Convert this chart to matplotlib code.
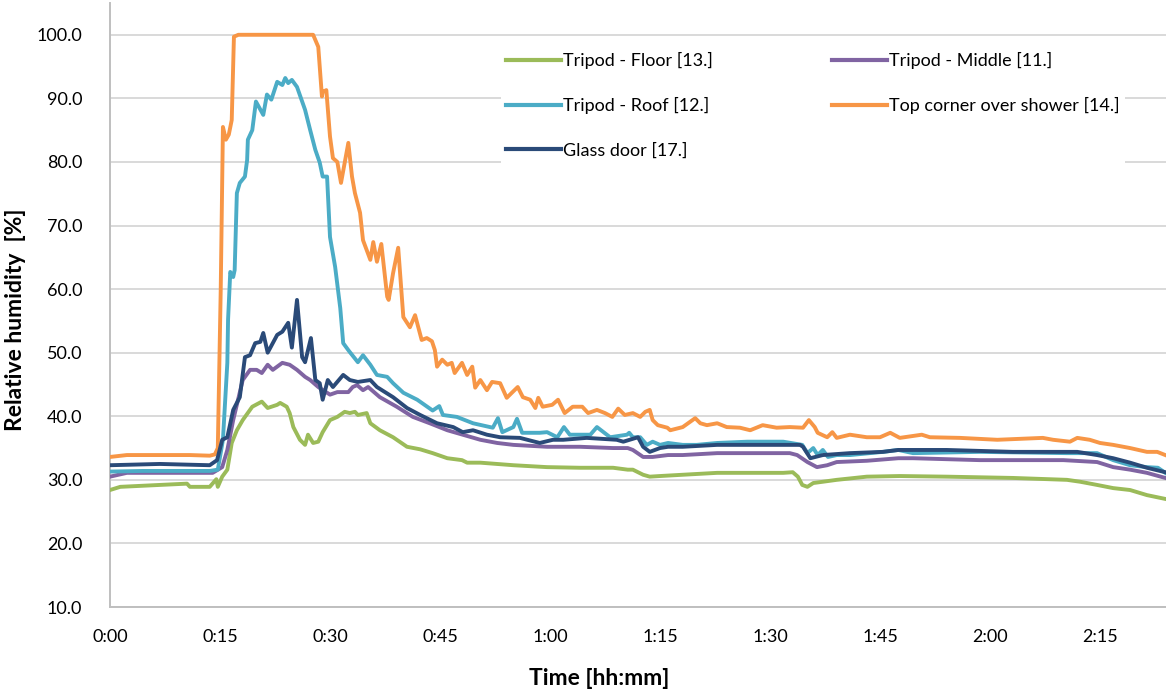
import matplotlib
matplotlib.use("Agg")
import matplotlib.pyplot as plt
from matplotlib.ticker import FormatStrFormatter

plt.rcParams['font.family'] = ['Lato', 'DejaVu Sans']

# time in minutes from start, relative humidity in %
floor = [(0.0, 28.4), (1.4, 28.9), (6.8, 29.2), (10.5, 29.4), (10.9, 28.9), (13.6, 28.9),
         (14.5, 30.1), (14.7, 28.9), (15.3, 30.5), (16.0, 31.6), (16.6, 35.8), (17.3, 37.8),
         (18.1, 39.4), (19.4, 41.5), (20.7, 42.3), (21.5, 41.3), (22.8, 41.8), (23.2, 42.1),
         (24.1, 41.5), (24.5, 40.5), (25.0, 38.3), (25.9, 36.3), (26.6, 35.5), (27.0, 37.1),
         (27.7, 35.8), (28.4, 36.0), (29.0, 37.5), (30.0, 39.4), (31.0, 39.9), (32.0, 40.7),
         (32.7, 40.5), (33.4, 40.7), (33.8, 40.2), (35.0, 40.5), (35.5, 38.9), (36.8, 37.8),
         (38.6, 36.7), (40.5, 35.2), (42.3, 34.8), (44.0, 34.2), (46.0, 33.4), (48.0, 33.1),
         (48.7, 32.7), (50.5, 32.7), (55.0, 32.3), (59.6, 32.0), (64.1, 31.9), (68.6, 31.9),
         (70.6, 31.6), (71.3, 31.6), (72.7, 30.8), (73.6, 30.5), (75.0, 30.6), (78.1, 30.8),
         (82.8, 31.1), (87.3, 31.1), (91.8, 31.1), (93.1, 31.2), (93.8, 30.5), (94.4, 29.2),
         (95.1, 28.9), (95.9, 29.5), (97.2, 29.7), (99.1, 30.0), (103.2, 30.5), (107.7, 30.6),
         (114.1, 30.5), (123.1, 30.3), (130.5, 30.0), (132.3, 29.7), (134.6, 29.2),
         (136.8, 28.7), (139.1, 28.4), (141.4, 27.6), (143.9, 27.0)]

middle = [(0.0, 30.5), (2.3, 31.1), (14.0, 31.1), (15.3, 32.0), (16.0, 34.7), (16.8, 39.4),
          (18.1, 45.7), (19.1, 47.3), (20.0, 47.3), (20.7, 46.8), (21.5, 48.1), (22.2, 47.3),
          (23.5, 48.4), (24.5, 48.1), (25.5, 47.3), (26.6, 46.2), (27.3, 45.7), (28.4, 44.6),
          (30.0, 43.4), (31.0, 43.8), (32.5, 43.8), (33.1, 44.6), (33.7, 44.9), (34.5, 44.1),
          (35.2, 44.6), (36.8, 43.0), (39.1, 41.5), (41.3, 39.9), (43.6, 38.9), (46.0, 37.8),
          (48.1, 37.1), (50.5, 36.3), (52.8, 35.8), (55.0, 35.5), (59.6, 35.2), (64.1, 35.2),
          (68.6, 35.0), (70.6, 35.0), (71.3, 34.7), (72.7, 33.6), (74.0, 33.6), (76.1, 33.9),
          (78.1, 33.9), (82.8, 34.2), (87.3, 34.2), (92.7, 34.2), (93.7, 33.9), (95.1, 32.8),
          (96.4, 32.0), (97.8, 32.3), (99.1, 32.8), (103.2, 33.0), (107.5, 33.4), (109.5, 33.4),
          (118.6, 33.1), (130.0, 33.1), (134.6, 32.8), (136.8, 32.0), (139.1, 31.6),
          (141.4, 31.1), (143.9, 30.3)]

roof = [(0.0, 31.3), (4.5, 31.4), (13.6, 31.4), (14.7, 31.6), (15.4, 36.3), (16.0, 48.4),
        (16.1, 55.2), (16.4, 62.7), (16.8, 61.9), (17.0, 63.0), (17.3, 75.1), (17.7, 76.7),
        (18.4, 77.7), (18.7, 80.3), (18.8, 83.5), (19.4, 85.0), (19.9, 89.5), (20.9, 87.4),
        (21.4, 90.6), (22.0, 89.8), (22.8, 92.6), (23.5, 92.1), (23.9, 93.2), (24.3, 92.4),
        (24.8, 92.9), (25.5, 91.8), (26.6, 88.2), (27.3, 85.0), (28.0, 81.9), (28.6, 79.9),
        (29.0, 77.7), (29.6, 77.7), (30.0, 68.2), (30.7, 63.5), (31.4, 57.0), (31.8, 51.5),
        (32.5, 50.4), (32.7, 50.1), (33.8, 48.5), (34.5, 49.6), (35.5, 48.1), (36.4, 46.5),
        (37.8, 46.2), (38.6, 45.2), (40.0, 43.7), (41.9, 42.6), (44.0, 40.9), (44.9, 41.6),
        (45.4, 40.2), (47.3, 39.9), (49.5, 38.9), (52.2, 38.2), (52.9, 39.7), (53.5, 37.5),
        (55.0, 38.3), (55.5, 39.6), (56.2, 37.4), (58.6, 37.4), (59.6, 37.5), (61.0, 36.7),
        (61.9, 38.3), (62.7, 37.1), (65.5, 37.1), (66.4, 38.3), (68.2, 36.7), (70.5, 37.1),
        (70.8, 37.4), (71.3, 36.7), (72.3, 36.7), (73.2, 35.5), (74.0, 36.0), (75.0, 35.5),
        (76.1, 35.8), (78.1, 35.5), (80.0, 35.5), (82.8, 35.8), (86.9, 36.0), (91.8, 36.0),
        (94.4, 35.5), (95.1, 34.2), (95.9, 35.0), (96.5, 33.9), (97.2, 34.7), (97.9, 33.6),
        (99.1, 33.9), (100.9, 33.9), (105.4, 34.4), (107.5, 34.7), (109.5, 34.2),
        (118.6, 34.4), (130.5, 34.2), (134.6, 34.2), (136.8, 33.1), (139.1, 32.3),
        (141.4, 32.0), (142.9, 31.9), (143.9, 31.1)]

shower = [(0.0, 33.6), (2.3, 33.9), (10.9, 33.9), (13.6, 33.8), (14.3, 34.0), (14.7, 35.0),
          (15.1, 60.0), (15.4, 85.5), (15.8, 83.5), (16.2, 84.3), (16.6, 86.6), (16.9, 99.7),
          (17.5, 100.0), (27.7, 100.0), (28.4, 98.1), (28.9, 90.3), (29.0, 91.0), (29.5, 91.3),
          (30.0, 84.0), (30.4, 80.6), (31.0, 80.0), (31.5, 76.7), (32.5, 83.0), (33.0, 77.7),
          (33.4, 75.1), (34.1, 72.0), (34.5, 67.7), (35.5, 64.6), (35.9, 67.4), (36.4, 64.3),
          (37.0, 67.1), (37.8, 58.8), (38.0, 58.3), (38.6, 62.5), (39.3, 66.5), (40.0, 55.6),
          (40.9, 54.0), (41.6, 55.9), (42.5, 52.0), (43.2, 52.3), (43.9, 51.8), (44.3, 50.4),
          (44.6, 47.8), (45.3, 48.9), (46.0, 48.1), (46.6, 48.4), (47.0, 46.8), (48.0, 48.4),
          (48.7, 46.5), (49.4, 47.8), (49.8, 44.5), (50.5, 45.7), (51.4, 44.1), (52.1, 45.4),
          (53.2, 45.2), (54.1, 42.9), (54.8, 43.7), (55.6, 44.6), (56.3, 43.0), (57.3, 42.6),
          (58.0, 41.3), (58.4, 42.9), (59.0, 41.5), (60.3, 41.8), (61.1, 42.6), (62.0, 40.5),
          (63.1, 41.5), (64.4, 41.5), (65.2, 40.5), (66.4, 41.0), (67.5, 40.5), (68.5, 39.9),
          (69.3, 41.2), (70.2, 40.2), (71.3, 40.5), (72.3, 39.9), (73.0, 40.7), (73.6, 41.0),
          (74.0, 39.4), (74.7, 38.6), (76.0, 38.2), (76.4, 37.8), (78.1, 38.3), (79.8, 39.7),
          (80.5, 38.9), (81.4, 38.6), (82.8, 38.9), (84.1, 38.3), (85.9, 38.2), (87.3, 37.8),
          (89.0, 38.6), (90.9, 38.2), (92.7, 38.3), (94.5, 38.2), (95.3, 39.4), (96.1, 38.3),
          (96.5, 37.4), (97.8, 36.7), (98.5, 37.5), (99.1, 36.6), (100.9, 37.1), (103.2, 36.7),
          (105.0, 36.7), (106.4, 37.4), (107.7, 36.6), (110.7, 37.1), (111.8, 36.7),
          (115.9, 36.6), (121.0, 36.3), (127.2, 36.6), (128.6, 36.3), (130.9, 36.0),
          (131.9, 36.6), (133.6, 36.3), (135.0, 35.8), (136.8, 35.5), (139.1, 35.0),
          (141.4, 34.4), (142.8, 34.4), (143.9, 33.9)]

glass = [(0.0, 32.3), (6.8, 32.5), (13.6, 32.3), (14.6, 33.1), (15.3, 36.3), (16.0, 36.7),
         (16.8, 41.0), (17.7, 43.0), (18.4, 49.3), (19.1, 49.6), (19.8, 51.5), (20.5, 51.7),
         (20.9, 53.1), (21.5, 50.0), (22.8, 52.8), (23.5, 53.3), (24.3, 54.7), (24.8, 50.8),
         (25.5, 58.3), (26.2, 49.3), (26.6, 48.5), (27.4, 52.3), (28.0, 45.7), (28.6, 45.2),
         (29.0, 42.6), (29.7, 45.7), (30.4, 44.6), (31.8, 46.5), (32.7, 45.7), (33.8, 45.4),
         (35.5, 45.7), (36.4, 44.6), (38.6, 43.0), (40.5, 41.3), (42.3, 40.2), (44.6, 38.9),
         (46.8, 38.3), (48.1, 37.5), (49.5, 37.8), (51.4, 37.1), (53.2, 36.7), (55.9, 36.6),
         (58.6, 35.8), (60.4, 36.3), (61.8, 36.3), (65.0, 36.6), (69.1, 36.3), (70.0, 36.0),
         (72.0, 36.7), (72.7, 35.2), (73.6, 34.4), (75.0, 35.0), (76.1, 35.2), (78.1, 35.2),
         (82.8, 35.5), (87.3, 35.5), (94.1, 35.5), (94.5, 35.2), (95.5, 33.4), (97.2, 33.9),
         (100.9, 34.2), (105.4, 34.4), (107.5, 34.7), (114.1, 34.7), (123.1, 34.4),
         (131.9, 34.4), (134.6, 33.9), (136.8, 33.4), (139.1, 32.7), (141.4, 31.9),
         (143.9, 31.2)]

labels = ['Tripod - Floor [13.]', 'Tripod - Middle [11.]', 'Tripod - Roof [12.]',
          'Top corner over shower [14.]', 'Glass door [17.]']
colors = ['#9BBB59', '#8064A2', '#4BACC6', '#F79646', '#2A4A78']
series = [floor, middle, roof, shower, glass]

tick_minutes = [0, 15, 30, 45, 60, 75, 90, 105, 120, 135]
tick_labels = ['0:00', '0:15', '0:30', '0:45', '1:00', '1:15', '1:30', '1:45', '2:00', '2:15']

fig = plt.figure(figsize=(11.66, 6.97), dpi=100)
ax = fig.add_axes([110 / 1166, 1 - 607 / 697, 1056 / 1166, 604 / 697])

lines = {}
for data, lab, col in zip(series, labels, colors):
    t = [p[0] for p in data]
    v = [p[1] for p in data]
    ln, = ax.plot(t, v, color=col, lw=2.8, label=lab, solid_joinstyle='round', zorder=3)
    lines[lab] = ln

ax.set_xlim(0, 144)
ax.set_ylim(10, 105)
ax.set_yticks(range(10, 101, 10))
ax.yaxis.set_major_formatter(FormatStrFormatter('%.1f'))
ax.set_xticks(tick_minutes)
ax.set_xticklabels(tick_labels)
ax.tick_params(axis='both', length=0, labelsize=13, colors='#000000')
ax.tick_params(axis='y', pad=20)
ax.tick_params(axis='x', pad=16)

ax.grid(axis='y', color='#D9D9D9', lw=1.4, zorder=0)
ax.grid(axis='x', visible=False)
for s in ['top', 'right']:
    ax.spines[s].set_visible(False)
for s in ['left', 'bottom']:
    ax.spines[s].set_color('#BFBFBF')
    ax.spines[s].set_linewidth(1.4)

ax.set_xlabel('Time [hh:mm]', fontsize=16.5, fontweight='bold')
ax.xaxis.set_label_coords(0.463, -0.101)
ax.set_ylabel('Relative humidity  [%]', fontsize=16.5, fontweight='bold')
ax.yaxis.set_label_coords(-0.0795, 0.475)

order = ['Tripod - Floor [13.]', 'Tripod - Roof [12.]', 'Glass door [17.]',
         'Tripod - Middle [11.]', 'Top corner over shower [14.]']
leg = ax.legend([lines[k] for k in order], order, ncol=2, loc='upper left',
                bbox_to_anchor=(492 / 1166, 1 - 38 / 697), bbox_transform=fig.transFigure,
                fontsize=13, frameon=True, facecolor='white', edgecolor='none',
                framealpha=1, fancybox=False, handlelength=3.0, handletextpad=0.15,
                labelspacing=1.55, columnspacing=6.6, borderpad=0.3)
leg.set_zorder(5)
for h in leg.get_lines():
    h.set_linewidth(3)

fig.savefig('out.png', dpi=100)
